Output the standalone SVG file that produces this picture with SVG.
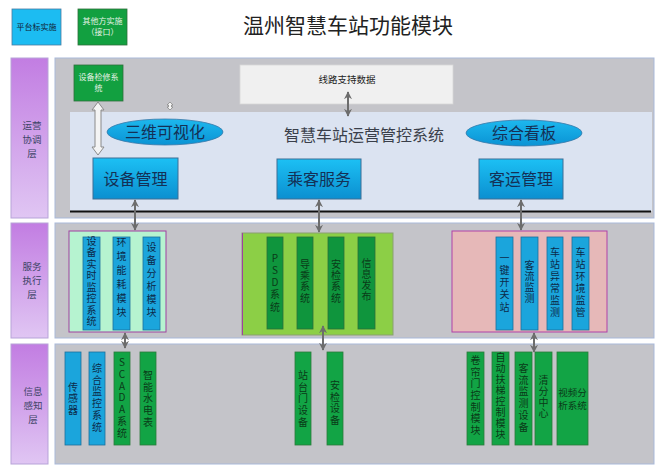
<svg xmlns="http://www.w3.org/2000/svg" width="658" height="465" viewBox="0 0 658 465">
<defs>
<linearGradient id="gPurple" x1="0" y1="0" x2="0" y2="1"><stop offset="0" stop-color="#c27de2"/><stop offset="1" stop-color="#e0c6f3"/></linearGradient>
<linearGradient id="gBlue" x1="0" y1="0" x2="0" y2="1"><stop offset="0" stop-color="#1cc0f4"/><stop offset="1" stop-color="#0b8fd0"/></linearGradient>
<linearGradient id="gEll" x1="0" y1="0" x2="0" y2="1"><stop offset="0" stop-color="#1db8ee"/><stop offset="1" stop-color="#0a93d4"/></linearGradient>
<marker id="ah" viewBox="0 0 10 10" refX="9" refY="5" markerWidth="4" markerHeight="4" orient="auto-start-reverse"><path d="M0,0 L10,5 L0,10 L3,5 Z" fill="#6d6d6d"/></marker>
</defs>
<style>
text{font-family:"Noto Sans CJK SC","Noto Sans",sans-serif;}
.lay{fill:url(#gPurple);stroke:#b7a3d8;stroke-width:1}
.panel{fill:#c4c4c9;stroke:#a9b9d9;stroke-width:1}
.ll{font-size:9.5px;fill:#3d4466;text-anchor:middle}
.bc{fill:#1ba5dc;stroke:#1c6f9c;stroke-width:0.8}
.gc{fill:#0f953d;stroke:#2c6f3a;stroke-width:0.8}
.gc3{fill:#12a445;stroke:#2c7a3a;stroke-width:0.8}
.vt{font-size:10px;fill:#0c2a4a;text-anchor:middle;writing-mode:vertical-rl;text-orientation:upright}
.vg{font-size:10px;fill:#0a3a18;text-anchor:middle;writing-mode:vertical-rl;text-orientation:upright}
.bx{fill:url(#gBlue);stroke:#3c6e96;stroke-width:1}
.bt{font-size:16px;fill:#143055;text-anchor:middle}
.conn{stroke:#6d6d6d;stroke-width:2;fill:none;marker-start:url(#ah);marker-end:url(#ah)}
</style>

<g id="title"><text x="348" y="33" font-size="21" fill="#222" text-anchor="middle">温州智慧车站功能模块</text></g>

<g id="legend-platform"><rect x="12" y="9" width="49" height="36" fill="#1cbcf2" stroke="#4a7aa0" stroke-width="0.8"/><text x="36.5" y="30" font-size="8" fill="#123" text-anchor="middle">平台标实施</text></g>
<g id="legend-other"><rect x="78" y="9" width="49" height="36" fill="#12a040" stroke="#2f6e3a" stroke-width="0.8"/><text x="102.5" y="24" font-size="8" fill="#e6f2e6" text-anchor="middle">其他方实施</text><text x="102.5" y="35" font-size="8" fill="#e6f2e6" text-anchor="middle">（接口）</text></g>

<!-- Layer 1 -->
<g id="layer1-label"><rect class="lay" x="11" y="58" width="37" height="160"/><text class="ll" x="32" y="128.5">运营</text><text class="ll" x="32" y="142.5">协调</text><text class="ll" x="32" y="156.5">层</text></g>
<g id="layer1-panel"><rect class="panel" x="55" y="58" width="599" height="160"/><rect x="70" y="112" width="582" height="99" fill="#dbe3f1"/><line x1="70" y1="211.5" x2="651" y2="211.5" stroke="#111" stroke-width="2"/>
<text x="364" y="141" font-size="16" fill="#3a3f4a" text-anchor="middle">智慧车站运营管控系统</text></g>
<g id="maint"><rect x="74" y="65" width="49" height="36" fill="#12a040" stroke="#2f6e3a" stroke-width="0.8"/><text x="98.5" y="80" font-size="8" fill="#e6f2e6" text-anchor="middle">设备检修系</text><text x="98.5" y="91" font-size="8" fill="#e6f2e6" text-anchor="middle">统</text></g>
<g id="linedata"><rect x="240" y="65" width="213" height="39" fill="#f0f0f0" stroke="#d8d8d8" stroke-width="0.8"/><text x="347" y="83" font-size="9.5" fill="#222" text-anchor="middle">线路支持数据</text></g>
<g id="viz3d"><ellipse cx="165" cy="132" rx="58" ry="13" fill="url(#gEll)" stroke="#3a78a8" stroke-width="0.8"/><text x="165" y="138" font-size="16" fill="#143055" text-anchor="middle">三维可视化</text></g>
<g id="board"><ellipse cx="524" cy="133" rx="58" ry="13" fill="url(#gEll)" stroke="#3a78a8" stroke-width="0.8"/><text x="524" y="139" font-size="16" fill="#143055" text-anchor="middle">综合看板</text></g>
<g id="equip-mgmt"><rect class="bx" x="93" y="158" width="85" height="41"/><text class="bt" x="135.5" y="185">设备管理</text></g>
<g id="pass-svc"><rect class="bx" x="277" y="159" width="84" height="40"/><text class="bt" x="319" y="185">乘客服务</text></g>
<g id="trans-mgmt"><rect class="bx" x="479" y="159" width="84" height="40"/><text class="bt" x="521" y="185">客运管理</text></g>

<!-- Layer 2 -->
<g id="layer2-label"><rect class="lay" x="11" y="223" width="37" height="115"/><text class="ll" x="32" y="269.5">服务</text><text class="ll" x="32" y="283.5">执行</text><text class="ll" x="32" y="297.5">层</text></g>
<g id="layer2-panel"><rect class="panel" x="55" y="223" width="599" height="115"/></g>
<g id="equip-group"><rect x="69" y="231" width="97" height="101" fill="#b6f3d0" stroke="#a040a0" stroke-width="1"/>
<rect class="bc" x="83" y="237" width="17" height="93"/><text class="vt" x="91.5" y="282" letter-spacing="1.5">设备实时监控系统</text>
<rect class="bc" x="113" y="237" width="17" height="93"/><text class="vt" x="121.5" y="279" letter-spacing="4">环境能耗模块</text>
<rect class="bc" x="143" y="237" width="17" height="93"/><text class="vt" x="151.5" y="281" letter-spacing="3">设备分析模块</text></g>
<g id="pass-group"><rect x="242" y="233" width="151" height="102" fill="#8ccf46" stroke="#8aa070" stroke-width="1"/><line x1="242.5" y1="233" x2="242.5" y2="335" stroke="#a040a0" stroke-width="1"/>
<rect class="gc" x="267" y="237" width="16" height="92"/><text class="vg" x="275" y="283.5" letter-spacing="2.2">PSD系统</text>
<rect class="gc" x="297" y="237" width="16" height="92"/><text class="vg" x="305" y="281.5" letter-spacing="1.3">导乘系统</text>
<rect class="gc" x="328" y="237" width="16" height="92"/><text class="vg" x="336" y="281.5" letter-spacing="1.3">安检系统</text>
<rect class="gc" x="358" y="237" width="17" height="92"/><text class="vg" x="366.5" y="280" letter-spacing="1">信息发布</text></g>
<g id="trans-group"><rect x="452" y="231" width="155" height="101" fill="#e6b8b8" stroke="#b040a8" stroke-width="1"/>
<rect class="bc" x="496" y="237" width="17" height="93"/><text class="vt" x="504.5" y="283.5" letter-spacing="2.2">一键开关站</text>
<rect class="bc" x="521" y="237" width="17" height="93"/><text class="vt" x="529.5" y="282" letter-spacing="1">客流监测</text>
<rect class="bc" x="547" y="237" width="16" height="93"/><text class="vt" x="555" y="283" letter-spacing="2">车站异常监测</text>
<rect class="bc" x="572" y="237" width="17" height="93"/><text class="vt" x="580.5" y="283" letter-spacing="2">车站环境监管</text></g>

<!-- Layer 3 -->
<g id="layer3-label"><rect class="lay" x="11" y="344" width="37" height="120"/><text class="ll" x="33" y="394.5">信息</text><text class="ll" x="33" y="408.5">感知</text><text class="ll" x="33" y="422.5">层</text></g>
<g id="layer3-panel"><rect class="panel" x="55" y="344" width="599" height="120"/></g>
<g id="sensor"><rect class="bc" x="65" y="352" width="16" height="93"/><text class="vt" x="73" y="399" letter-spacing="1.5">传感器</text></g>
<g id="ims"><rect class="bc" x="89" y="352" width="16" height="93"/><text class="vt" x="97" y="398.5" letter-spacing="1.8">综合监控系统</text></g>
<g id="scada"><rect class="gc3" x="114" y="352" width="16" height="93"/><text class="vg" x="122" y="398.5" letter-spacing="1.8">SCADA系统</text></g>
<g id="meter"><rect class="gc3" x="140" y="352" width="16" height="93"/><text class="vg" x="148" y="399.5" letter-spacing="1.8">智能水电表</text></g>
<g id="psd-dev"><rect class="gc3" x="295" y="352" width="16" height="93"/><text class="vg" x="303" y="399.5" letter-spacing="1.8">站台门设备</text></g>
<g id="sec-dev"><rect class="gc3" x="327" y="352" width="16" height="93"/><text class="vg" x="335" y="403.5" letter-spacing="1.7">安检设备</text></g>
<g id="shutter"><rect class="gc3" x="467" y="352" width="17" height="93"/><text class="vg" x="475.5" y="396" letter-spacing="1.7">卷帘门控制模块</text></g>
<g id="escalator"><rect class="gc3" x="492" y="352" width="17" height="93"/><text class="vg" x="500.5" y="396" letter-spacing="1">自动扶梯控制模块</text></g>
<g id="flow-dev"><rect class="gc3" x="515" y="352" width="17" height="93"/><text class="vg" x="523.5" y="398.5" letter-spacing="1.8">客流监测设备</text></g>
<g id="clearing"><rect class="gc3" x="535" y="352" width="17" height="93"/><text class="vg" x="543.5" y="397" letter-spacing="1">清分中心</text></g>
<g id="video"><rect class="gc3" x="557" y="352" width="31" height="93"/><text x="572.5" y="396" font-size="9.5" fill="#0a3a18" text-anchor="middle">视频分</text><text x="572.5" y="409" font-size="9.5" fill="#0a3a18" text-anchor="middle">析系统</text></g>

<!-- Connectors -->
<g id="connectors">
<path d="M98,102 L104,110 L101,110 L101,147 L104,147 L98,155 L92,147 L95,147 L95,110 L92,110 Z" fill="#f4f4f4" stroke="#8a8a8a" stroke-width="1"/>
<path d="M170,102 L173,105 L171.5,105 L171.5,107 L173,107 L170,110 L167,107 L168.5,107 L168.5,105 L167,105 Z" fill="#f4f4f4" stroke="#8a8a8a" stroke-width="0.8"/>
<line class="conn" x1="348" y1="92" x2="348" y2="116"/>
<line class="conn" x1="135" y1="200" x2="135" y2="230"/>
<line class="conn" x1="319" y1="200" x2="319" y2="232"/>
<line class="conn" x1="521" y1="200" x2="521" y2="230"/>
<line class="conn" x1="125" y1="333" x2="125" y2="348"/>
<line class="conn" x1="323" y1="326" x2="323" y2="350"/>
<line class="conn" x1="534" y1="333" x2="534" y2="352"/>
</g>
</svg>
